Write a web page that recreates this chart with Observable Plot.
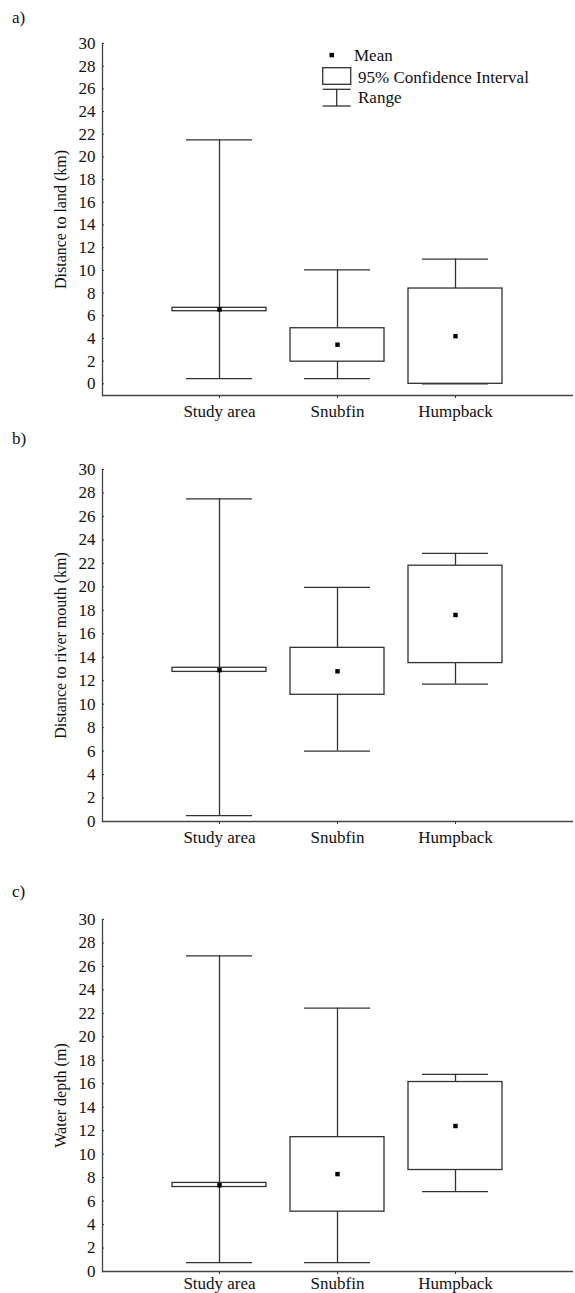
<!DOCTYPE html>
<html>
<head>
<meta charset="utf-8">
<script src="https://cdn.jsdelivr.net/npm/d3@7"></script>
<script src="https://cdn.jsdelivr.net/npm/@observablehq/plot@0.6"></script>
<style>
  html, body { margin: 0; padding: 0; background: #fff; }
  body { width: 575px; height: 1293px; overflow: hidden; position: relative;
         font-family: "Liberation Serif", "Times New Roman", serif; }
  #charts svg { display: block; }
  #overlay { position: absolute; left: 0; top: 0; pointer-events: none; }
</style>
</head>
<body>
<div id="charts"></div>
<svg id="overlay" width="575" height="1293"></svg>
<script>
// ---------- data ----------
const categories = ["Study area", "Snubfin", "Humpback"];
const yTicks = [0, 2, 4, 6, 8, 10, 12, 14, 16, 18, 20, 22, 24, 26, 28, 30];

// a) Distance to land (km)
const landMin  = [0.45, 0.45, 0.0];
const landMax  = [21.5, 10.05, 11.0];
const landLow  = [6.4, 1.95, 0.0];
const landHigh = [6.7, 4.9, 8.4];
const landMean = [6.55, 3.45, 4.2];

// b) Distance to river mouth (km)
const riverMin  = [0.5, 6.0, 11.7];
const riverMax  = [27.5, 19.95, 22.85];
const riverLow  = [12.75, 10.8, 13.5];
const riverHigh = [13.1, 14.8, 21.8];
const riverMean = [12.9, 12.8, 17.6];

// c) Water depth (m)
const depthMin  = [0.75, 0.75, 6.8];
const depthMax  = [26.9, 22.45, 16.8];
const depthLow  = [7.2, 5.1, 8.65];
const depthHigh = [7.55, 11.45, 16.15];
const depthMean = [7.35, 8.3, 12.4];

const ink = "#333";
const font = '"Liberation Serif", "Times New Roman", serif';

function panel(title, min, max, low, high, mean, yMin, marginTop, height, labelPad) {
  const rows = categories.map((c, i) => ({
    category: c, min: min[i], max: max[i], low: low[i], high: high[i], mean: mean[i]
  }));
  return Plot.plot({
    width: 575, height,
    marginTop, marginBottom: height - marginTop - 352, marginLeft: 102, marginRight: 2,
    style: { fontFamily: font, fontSize: "17px", color: "#111", background: "white", overflow: "visible" },
    x: { domain: categories, paddingInner: 0.2, paddingOuter: 0.595, axis: null },
    y: { domain: [yMin, 30], axis: null },
    marks: [
      Plot.ruleX(rows, { x: "category", y1: "min", y2: "max", stroke: ink, strokeWidth: 1.3 }),
      Plot.tickY(rows, { x: "category", y: "max", stroke: ink, strokeWidth: 1.3, insetLeft: 14, insetRight: 14 }),
      Plot.tickY(rows, { x: "category", y: "min", stroke: ink, strokeWidth: 1.3, insetLeft: 14, insetRight: 14 }),
      Plot.barY(rows, { x: "category", y1: "low", y2: "high", fill: "white", stroke: ink, strokeWidth: 1.3 }),
      Plot.dot(rows, { x: "category", y: "mean", symbol: "square", r: 2.5, fill: "black", stroke: "none" }),
      Plot.axisY({ ticks: yTicks, tickSize: -2, tickPadding: 9, fontSize: 17, label: null, stroke: ink }),
      Plot.axisY({ ticks: [], tickSize: 0, fontSize: 16, label: title, labelAnchor: "center",
                   labelOffset: 48, labelArrow: "none" }),
      Plot.axisX({ tickSize: 3, tickPadding: labelPad, fontSize: 17, label: null, stroke: ink }),
      Plot.ruleY([yMin], { stroke: "#444", strokeWidth: 1.5 }),
      Plot.frame({ anchor: "left", stroke: "#444", strokeWidth: 1.3 })
    ]
  });
}

const charts = document.getElementById("charts");
charts.appendChild(panel("Distance to land (km)", landMin, landMax, landLow, landHigh, landMean, -1.03, 43, 425, 6));
charts.appendChild(panel("Distance to river mouth (km)", riverMin, riverMax, riverLow, riverHigh, riverMean, 0, 44, 425, 6));
charts.appendChild(panel("Water depth (m)", depthMin, depthMax, depthLow, depthHigh, depthMean, 0, 69, 451, 2));

// ---------- overlay: panel letters + legend ----------
const ov = d3.select("#overlay").style("font-family", font);
[["a)", 23], ["b)", 444], ["c)", 897]].forEach(([t, y]) => {
  ov.append("text").attr("x", 12).attr("y", y).attr("font-size", 17).attr("fill", "#111").text(t);
});
const lg = ov.append("g").attr("font-size", 17).attr("fill", "#111");
lg.append("rect").attr("x", 329.5).attr("y", 52.8).attr("width", 4.5).attr("height", 4.5).attr("fill", "black");
lg.append("text").attr("x", 354).attr("y", 60.5).text("Mean");
lg.append("rect").attr("x", 322.7).attr("y", 67.7).attr("width", 28).attr("height", 16.6)
  .attr("fill", "white").attr("stroke", ink).attr("stroke-width", 1.3);
lg.append("text").attr("x", 358).attr("y", 83).text("95% Confidence Interval");
[[322.7, 89.3, 350.7, 89.3], [322.7, 106, 350.7, 106], [336.7, 89.3, 336.7, 106]].forEach(([x1, y1, x2, y2]) => {
  lg.append("line").attr("x1", x1).attr("y1", y1).attr("x2", x2).attr("y2", y2)
    .attr("stroke", ink).attr("stroke-width", 1.3);
});
lg.append("text").attr("x", 358).attr("y", 102.5).text("Range");
</script>
</body>
</html>
